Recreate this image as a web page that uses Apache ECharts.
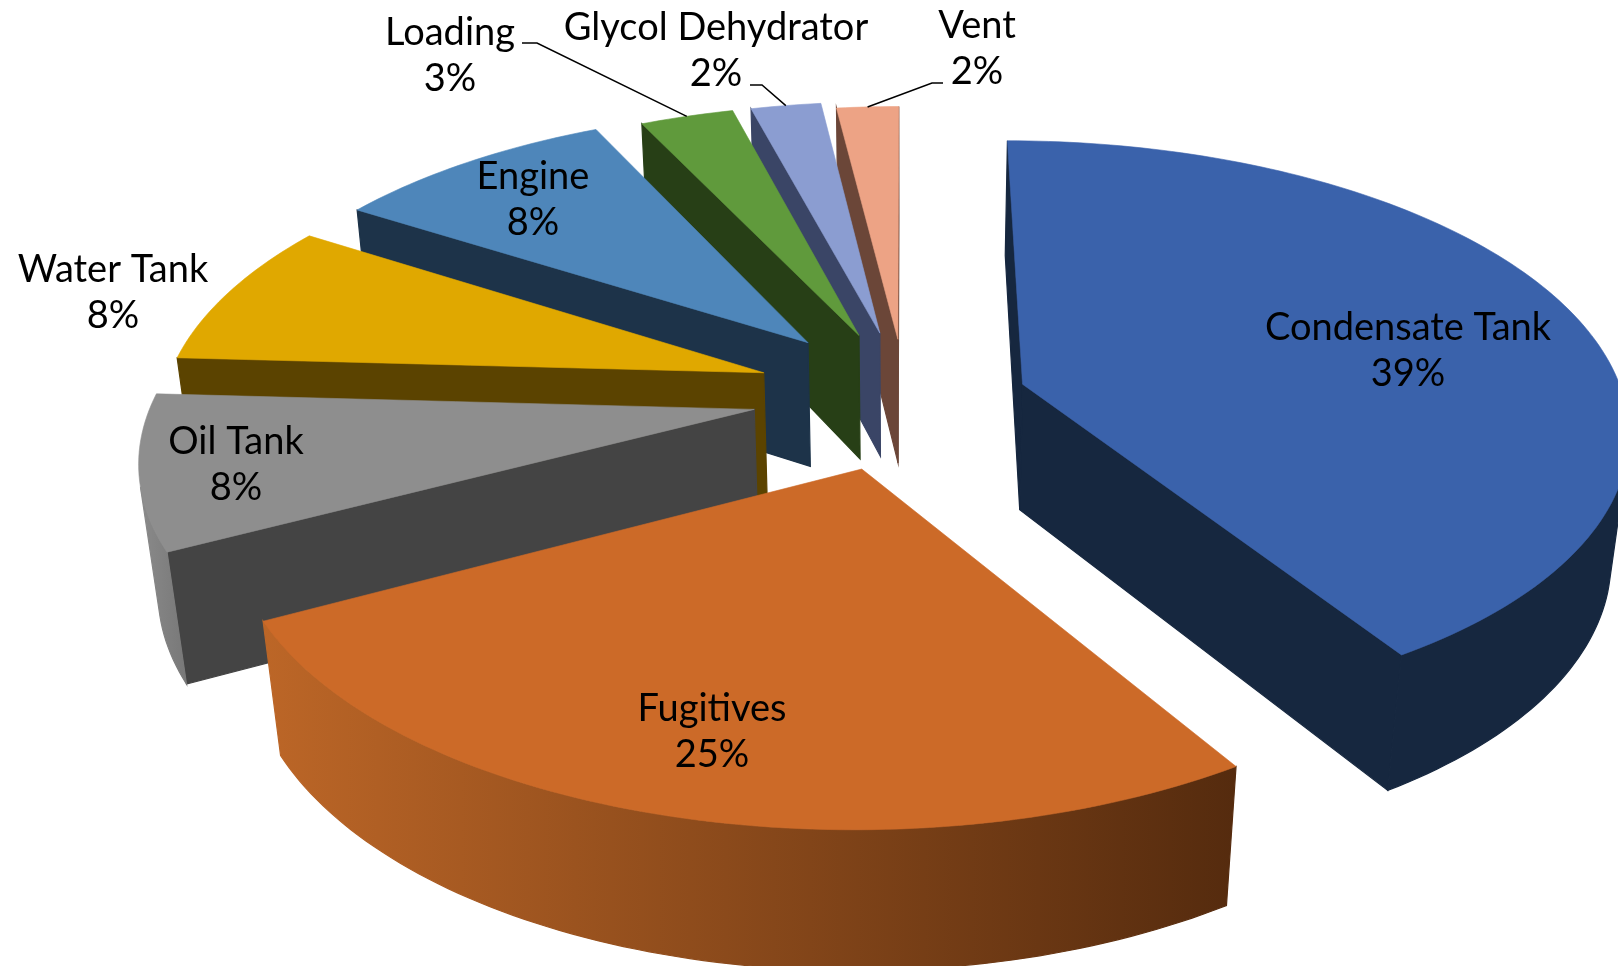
<!DOCTYPE html>
<html><head><meta charset="utf-8">
<style>html,body{margin:0;padding:0;background:#fff}#c{width:1618px;height:966px}</style>
<script src="https://cdn.jsdelivr.net/npm/echarts@6/dist/echarts.min.js"></script>
</head><body><div id="c"></div>
<script>
// ---- data
const categories = ['Condensate Tank','Fugitives','Oil Tank','Water Tank','Engine','Loading','Glycol Dehydrator','Vent'];
const values = [39,24.9,8.1,7.7,8.45,2.8,2.1,1.85];   // labels show whole percents
// ---- styles
const topColors = ['#3A62AB','#CC6A28','#8E8E8E','#E0A800','#4E86BA','#609A3C','#8B9DD1','#EDA385'];
const wallColors = ['#16273F','#552B0E','#444444','#5B4300','#1D3349','#273F16','#3A4566','#6B4638'];
const outerColors = [['#16273F','#16273F'],['#BC6627','#552B0E'],['#8A8A8A','#787878'],['#5B4300','#5B4300'],['#1D3349','#1D3349'],['#273F16','#273F16'],['#3A4566','#3A4566'],['#6B4638','#6B4638']];
// ---- layout (label centre, optional leader elbow, explosion per slice)
const labelAt = [[1408,351],[712,732],[236,465],[113,293],[533,200],[450,56],[716,51],[977,49]];
const leaders = [null,null,null,null,null,[[522,43],[537,43]],[[750,85],[762,85]],[[943,83],[932,83]]];
const explode = [0.2,0.265,0.255,0.25,0.25,0.228,0.227,0.2];
const explodeTurn = [6,0,0,0,0,0,0,0];
const drawOrder = [7,6,5,4,3,2,1,0];
const view = {cx:905, cy:394, rx:600, ry:282.3, depth:129, p:0.1485, q:0.025};

function project(u,v,h){
  const w = 1 + view.p*v + view.q*h;
  return [view.cx + view.rx*u/w, view.cy + (-view.ry*v + view.depth*h)/w];
}
const total = values.reduce((a,b)=>a+b,0);
const spans = []; let acc = 0;
values.forEach(val=>{ const a0 = acc/total*2*Math.PI; acc += val; spans.push([a0, acc/total*2*Math.PI]); });

function renderSlice(params){
  const i = drawOrder[params.dataIndex];
  const [a0,a1] = spans[i];
  const mid = (a0+a1)/2;
  const dir = mid + explodeTurn[i]*Math.PI/180;
  const ox = explode[i]*Math.sin(dir), oy = explode[i]*Math.cos(dir);
  const pt = (a,r,h)=>project(ox+r*Math.sin(a), oy+r*Math.cos(a), h);
  const n = Math.max(6, Math.ceil((a1-a0)/0.02));
  const arc = [];
  for(let k=0;k<=n;k++) arc.push(a0+(a1-a0)*k/n);
  const children = [];
  const poly = (points,fill,z,lw)=>({type:'polygon',z2:z,shape:{points},style:{fill,stroke:fill,lineWidth:lw}});
  const apex = pt(0,0,0), apexB = pt(0,0,1), midP = pt(mid,0.7,0);
  // cut walls, only where they face the viewer
  [a0,a1].forEach(a=>{
    const P = pt(a,1,0), d=[P[0]-apex[0],P[1]-apex[1]];
    const crossDown = d[0], crossIn = d[0]*(midP[1]-apex[1])-d[1]*(midP[0]-apex[0]);
    if(crossDown*crossIn<0) children.push(poly([apex,P,pt(a,1,1),apexB],wallColors[i],1,1.2));
  });
  // outer wall, front-facing segments only
  const front = [];
  for(let k=0;k<n;k++){
    const A=pt(arc[k],1,0),B=pt(arc[k+1],1,0),C=pt(arc[k+1],1,1);
    const area=(B[0]-A[0])*(C[1]-A[1])-(B[1]-A[1])*(C[0]-A[0]);
    if(area<0){ if(!front.length) front.push(arc[k]); front.push(arc[k+1]); }
  }
  if(front.length){
    const upper = front.map(a=>pt(a,1,0)), lower = front.map(a=>pt(a,1,1)).reverse();
    const xs = upper.concat(lower).map(q=>q[0]);
    const minX = Math.min(...xs), maxX = Math.max(...xs);
    const fill = new echarts.graphic.LinearGradient(minX,0,maxX,0,[{offset:0,color:outerColors[i][0]},{offset:1,color:outerColors[i][1]}],true);
    children.push({type:'polygon',z2:2,shape:{points:upper.concat(lower)},style:{fill,stroke:fill,lineWidth:1.2}});
  }
  // top face
  children.push(poly([apex].concat(arc.map(a=>pt(a,1,0))),topColors[i],3,0.6));
  // leader
  if(leaders[i]) children.push({type:'polyline',z2:20,shape:{points:leaders[i].concat([pt(mid,1,0)])},style:{stroke:'#000',lineWidth:1.5,fill:null}});
  // label
  children.push({type:'text',z2:30,style:{x:labelAt[i][0],y:labelAt[i][1],text:categories[i]+'\n'+Math.round(values[i])+'%',
    fill:'#000',font:'38px Lato',align:'center',verticalAlign:'middle',lineHeight:46}});
  return {type:'group',children};
}
const chart = echarts.init(document.getElementById('c'),null,{renderer:'canvas'});
chart.setOption({animation:false,backgroundColor:'#fff',
  series:[{type:'custom',coordinateSystem:'none',silent:true,renderItem:renderSlice,
    data:drawOrder.map(i=>({name:categories[i],value:values[i]}))}]});
</script></body></html>
